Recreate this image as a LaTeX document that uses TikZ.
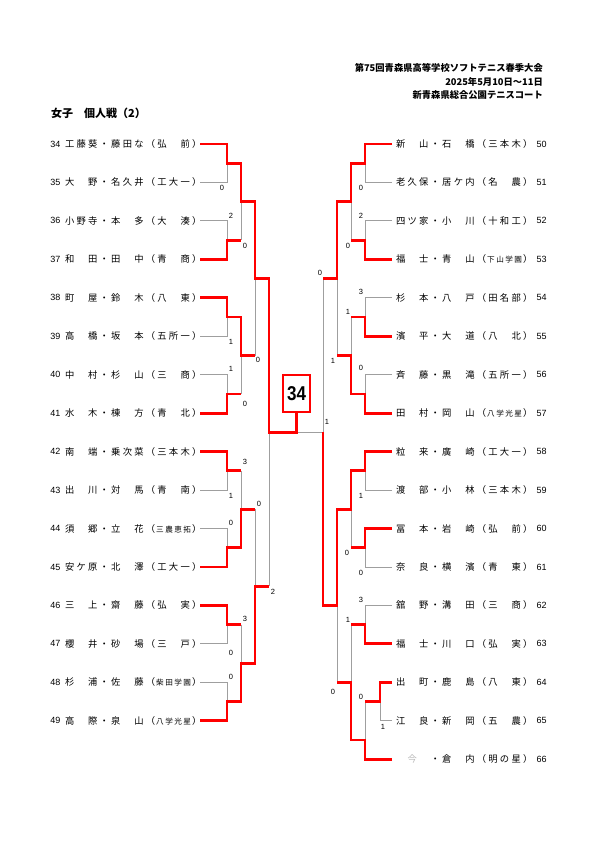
\documentclass[tikz,border=0pt]{standalone}
\usepackage{fontspec}
\setmainfont{Noto Sans CJK JP}
\newfontfamily\numf{Liberation Sans}
\newlength\cw
\setlength\cw{11.55pt}
\def\spreadw#1#2{\def\spw{#1}\spreadi#2\relax}
\def\spreadi#1{\ifx\relax#1\else\makebox[\spw][c]{#1}\expandafter\spreadi\fi}
\newcommand\sch[1]{\spreadw{\cw}{#1}}
\newcommand\smsch[1]{\makebox[3\cw][c]{\fontsize{7.6}{8}\selectfont\spreadw{9.1pt}{#1}}}
\newcommand\ima{\textcolor{gray!55}{今}}
\tikzset{
  namesty/.style={inner sep=0pt, font=\fontsize{9.3}{10}\selectfont},
  numsty/.style={inner sep=0pt, font=\numf\fontsize{9}{10}\selectfont},
  sc/.style={inner sep=0pt, font=\numf\fontsize{7.5}{8}\selectfont},
  gl/.style={draw=gray!75, line width=0.8pt},
  rl/.style={draw=red, line width=2.8pt, line join=miter},
}
\newcommand\lent[4]{%
  \node[numsty,anchor=east] (n#2) at (60.5,#1) {#2};
  \node[namesty,anchor=west] (e#2) at (63.7,#1) {\spreadw{\cw}{#3}#4\spreadw{\cw}{）}};}
\newcommand\rent[4]{%
  \node[namesty,anchor=west] (e#2) at (394.7,#1) {\spreadw{\cw}{#3}#4\spreadw{\cw}{）}};
  \node[numsty,anchor=west] (n#2) at (536.5,#1) {#2};}
\begin{document}
\begin{tikzpicture}[x=1pt,y=-1pt]
\useasboundingbox[fill=white] (0,0) rectangle (595,842);
% header
\node[anchor=east, inner sep=0pt, font=\bfseries\fontsize{9.3}{10}\selectfont] (h1) at (543,68) {第75回青森県高等学校ソフトテニス春季大会};
\node[anchor=east, inner sep=0pt, font=\bfseries\fontsize{9.3}{10}\selectfont] (h2) at (543,81.5) {2025年5月10日～11日};
\node[anchor=east, inner sep=0pt, font=\bfseries\fontsize{9.3}{10}\selectfont] (h3) at (543,95) {新青森県総合公園テニスコート};
\node[anchor=west, inner sep=0pt, font=\bfseries\fontsize{11}{12}\selectfont] (title) at (51,113) {女子　個人戦（2）};
% left entries
\lent{144}{34}{工藤葵・藤田な（}{\sch{弘　前}}
\lent{182.45}{35}{大　野・名久井（}{\sch{工大一}}
\lent{220.9}{36}{小野寺・本　多（}{\sch{大　湊}}
\lent{259.35}{37}{和　田・田　中（}{\sch{青　商}}
\lent{297.8}{38}{町　屋・鈴　木（}{\sch{八　東}}
\lent{336.25}{39}{高　橋・坂　本（}{\sch{五所一}}
\lent{374.7}{40}{中　村・杉　山（}{\sch{三　商}}
\lent{413.15}{41}{水　木・棟　方（}{\sch{青　北}}
\lent{451.6}{42}{南　端・乗次菜（}{\sch{三本木}}
\lent{490.05}{43}{出　川・対　馬（}{\sch{青　南}}
\lent{528.5}{44}{須　郷・立　花（}{\smsch{三農恵拓}}
\lent{566.95}{45}{安ケ原・北　澤（}{\sch{工大一}}
\lent{605.4}{46}{三　上・齋　藤（}{\sch{弘　実}}
\lent{643.85}{47}{櫻　井・砂　場（}{\sch{三　戸}}
\lent{682.3}{48}{杉　浦・佐　藤（}{\smsch{柴田学園}}
\lent{720.75}{49}{高　際・泉　山（}{\smsch{八学光星}}
% right entries
\rent{144}{50}{新　山・石　橋（}{\sch{三本木}}
\rent{182.45}{51}{老久保・居ケ内（}{\sch{名　農}}
\rent{220.9}{52}{四ツ家・小　川（}{\sch{十和工}}
\rent{259.35}{53}{福　士・青　山（}{\smsch{下山学園}}
\rent{297.8}{54}{杉　本・八　戸（}{\sch{田名部}}
\rent{336.25}{55}{濱　平・大　道（}{\sch{八　北}}
\rent{374.7}{56}{斉　藤・黒　滝（}{\sch{五所一}}
\rent{413.15}{57}{田　村・岡　山（}{\smsch{八学光星}}
\rent{451.6}{58}{粒　来・廣　崎（}{\sch{工大一}}
\rent{490.05}{59}{渡　部・小　林（}{\sch{三本木}}
\rent{528.5}{60}{冨　本・岩　崎（}{\sch{弘　前}}
\rent{566.95}{61}{奈　良・横　濱（}{\sch{青　東}}
\rent{605.4}{62}{舘　野・溝　田（}{\sch{三　商}}
\rent{643.85}{63}{福　士・川　口（}{\sch{弘　実}}
\rent{682.3}{64}{出　町・鹿　島（}{\sch{八　東}}
\rent{720.75}{65}{江　良・新　岡（}{\sch{五　農}}
\rent{759.2}{66}{　\ima　・倉　内（}{\sch{明の星}}
% champion box
\node[draw=red, line width=2pt, minimum width=27pt, minimum height=37pt, inner sep=0pt, font=\numf\bfseries\fontsize{20}{20}\selectfont] (champ) at (296.5,393.5) {\scalebox{0.85}[1]{34}};
% gray (lost) lines
\draw[gl] (200,182.45) -| (227,163.2);
\draw[gl] (200,220.9) -| (227,240.1);
\draw[gl] (241,240.1) -- (241,201.7);
\draw[gl] (200,336.25) -| (227,317);
\draw[gl] (200,374.7) -| (227,393.9);
\draw[gl] (241,393.9) -- (241,355.5);
\draw[gl] (255,355.5) -- (255,278.6);
\draw[gl] (200,490.05) -| (227,470.8);
\draw[gl] (200,528.5) -| (227,547.7);
\draw[gl] (241,470.8) -- (241,509.3);
\draw[gl] (255,509.3) -- (255,586.2);
\draw[gl] (200,643.85) -| (227,624.6);
\draw[gl] (200,682.3) -| (227,701.5);
\draw[gl] (241,624.6) -- (241,663.1);
\draw[gl] (269,586.2) -- (269,432.4);
\draw[gl] (297,432.4) -- (323,432.4);
\draw[gl] (392,182.45) -| (365,163.2);
\draw[gl] (392,220.9) -| (365,240.1);
\draw[gl] (351,240.1) -- (351,201.7);
\draw[gl] (392,297.8) -| (365,317);
\draw[gl] (392,374.7) -| (365,393.9);
\draw[gl] (351,317) -- (351,355.5);
\draw[gl] (337,355.5) -- (337,278.6);
\draw[gl] (323,278.6) -- (323,432.4);
\draw[gl] (392,490.05) -| (365,470.8);
\draw[gl] (392,566.95) -| (365,547.7);
\draw[gl] (351,547.7) -- (351,509.3);
\draw[gl] (392,605.4) -| (365,624.6);
\draw[gl] (351,624.6) -- (351,682.3);
\draw[gl] (392,720.75) -| (380,701.5);
\draw[gl] (365,701.5) -- (365,740);
\draw[gl] (337,682.3) -- (337,605.4);
% red (won) lines
\draw[rl] (200,144) -| (227,163.2) -| (241,201.7) -| (255,278.6) -| (269,432.4) -| (champ.south);
\draw[rl] (200,259.35) -| (227,240.1) -- (241,240.1);
\draw[rl] (200,297.8) -| (227,317) -| (241,355.5) -- (255,355.5);
\draw[rl] (200,413.15) -| (227,393.9) -- (241,393.9);
\draw[rl] (200,451.6) -| (227,470.8) -- (241,470.8);
\draw[rl] (200,566.95) -| (227,547.7) -| (241,509.3) -- (255,509.3);
\draw[rl] (200,605.4) -| (227,624.6) -- (241,624.6);
\draw[rl] (200,720.75) -| (227,701.5) -| (241,663.1) -| (255,586.2) -- (269,586.2);
\draw[rl] (392,144) -| (365,163.2) -| (351,201.7) -| (337,278.6) -- (323,278.6);
\draw[rl] (392,259.35) -| (365,240.1) -- (351,240.1);
\draw[rl] (392,336.25) -| (365,317) -- (351,317);
\draw[rl] (392,413.15) -| (365,393.9) -| (351,355.5) -- (337,355.5);
\draw[rl] (392,451.6) -| (365,470.8) -| (351,509.3) -| (337,605.4) -| (323,432.4);
\draw[rl] (392,528.5) -| (365,547.7) -- (351,547.7);
\draw[rl] (392,643.85) -| (365,624.6) -- (351,624.6);
\draw[rl] (392,682.3) -| (380,701.5) -- (365,701.5);
\draw[rl] (392,759.2) -| (365,740) -| (351,682.3) -- (337,682.3);
% scores left
\node[sc] (s1) at (222,188) {0};
\node[sc] (s2) at (231,216) {2};
\node[sc] (s3) at (245,246) {0};
\node[sc] (s4) at (231,342) {1};
\node[sc] (s5) at (231,369) {1};
\node[sc] (s6) at (245,404) {0};
\node[sc] (s7) at (258,360) {0};
\node[sc] (s8) at (245,462) {3};
\node[sc] (s9) at (231,496) {1};
\node[sc] (s10) at (259,504) {0};
\node[sc] (s11) at (231,523) {0};
\node[sc] (s12) at (273,592) {2};
\node[sc] (s13) at (245,619) {3};
\node[sc] (s14) at (231,653) {0};
\node[sc] (s15) at (231,677) {0};
% scores right
\node[sc] (t1) at (361,188) {0};
\node[sc] (t2) at (361,216) {2};
\node[sc] (t3) at (348,246) {0};
\node[sc] (t4) at (320,273) {0};
\node[sc] (t5) at (361,292) {3};
\node[sc] (t6) at (348,312) {1};
\node[sc] (t7) at (361,368) {0};
\node[sc] (t8) at (333,361) {1};
\node[sc] (t9) at (327,422) {1};
\node[sc] (t10) at (361,496) {1};
\node[sc] (t11) at (347,553) {0};
\node[sc] (t12) at (361,573) {0};
\node[sc] (t13) at (361,600) {3};
\node[sc] (t14) at (348,620) {1};
\node[sc] (t15) at (361,697) {0};
\node[sc] (t16) at (383,727) {1};
\node[sc] (t17) at (333,692) {0};
\end{tikzpicture}
\end{document}
